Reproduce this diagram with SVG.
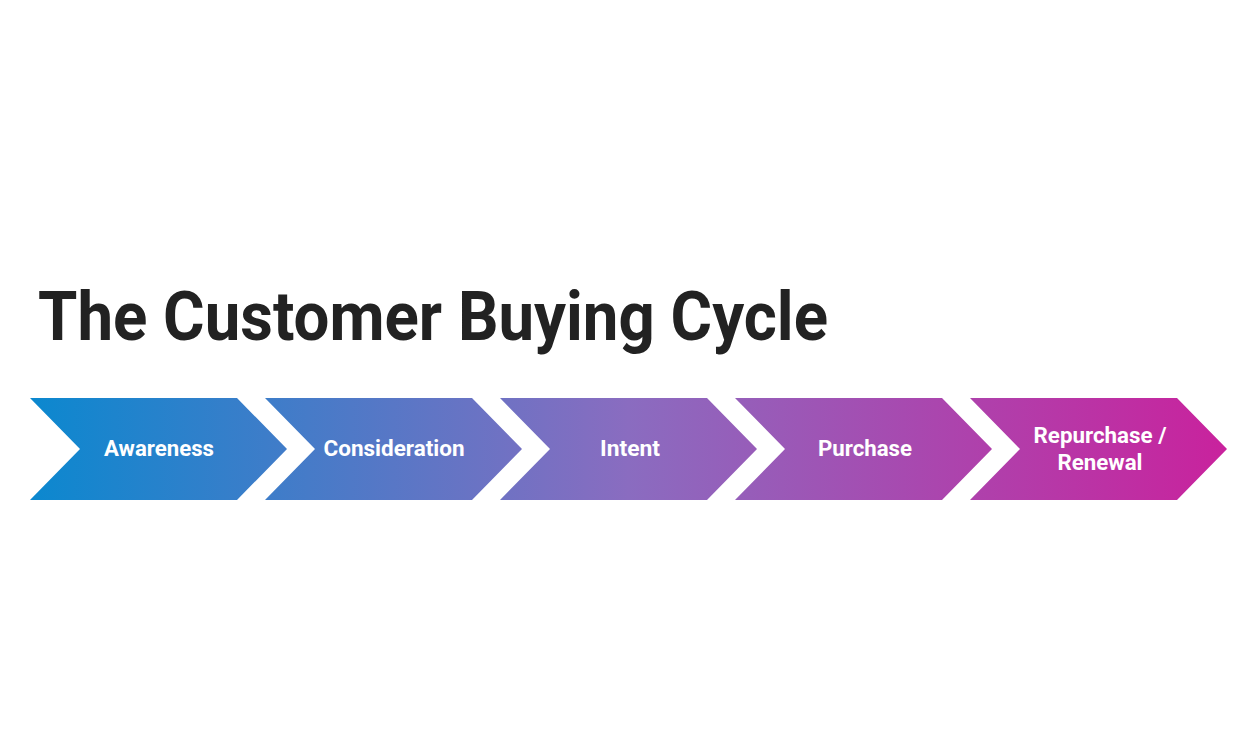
<svg xmlns="http://www.w3.org/2000/svg" width="1250" height="753" viewBox="0 0 1250 753">
<defs>
<linearGradient id="g" gradientUnits="userSpaceOnUse" x1="30" y1="0" x2="1227" y2="0">
<stop offset="0" stop-color="#0b88cf"/>
<stop offset="0.5" stop-color="#8a6cc0"/>
<stop offset="1" stop-color="#c9229d"/>
</linearGradient>
<style>
.c{fill:url(#g)}
.t{font-family:Roboto,"Liberation Sans",sans-serif;font-weight:bold;fill:#fff;font-size:22px;text-anchor:middle}
</style>
</defs>
<rect width="1250" height="753" fill="#fff"/>
<text x="38" y="340" font-family="Roboto,'Liberation Sans',sans-serif" font-weight="bold" font-size="68" fill="#222" textLength="790" lengthAdjust="spacingAndGlyphs">The Customer Buying Cycle</text>
<g id="connectors"></g>
<g id="awareness"><polygon class="c" points="30,398 237,398 287,449 237,500 30,500 80,449"/><text class="t" x="159" y="456" textLength="110" lengthAdjust="spacingAndGlyphs">Awareness</text></g>
<g id="consideration"><polygon class="c" points="265,398 472,398 522,449 472,500 265,500 315,449"/><text class="t" x="394" y="456" textLength="141" lengthAdjust="spacingAndGlyphs">Consideration</text></g>
<g id="intent"><polygon class="c" points="500,398 707,398 757,449 707,500 500,500 550,449"/><text class="t" x="630" y="456" textLength="60" lengthAdjust="spacingAndGlyphs">Intent</text></g>
<g id="purchase"><polygon class="c" points="735,398 942,398 992,449 942,500 735,500 785,449"/><text class="t" x="865" y="456" textLength="94" lengthAdjust="spacingAndGlyphs">Purchase</text></g>
<g id="renewal"><polygon class="c" points="970,398 1177,398 1227,449 1177,500 970,500 1020,449"/><text class="t" x="1100" y="443" textLength="133" lengthAdjust="spacingAndGlyphs">Repurchase /</text><text class="t" x="1100" y="470" textLength="85" lengthAdjust="spacingAndGlyphs">Renewal</text></g>
</svg>
